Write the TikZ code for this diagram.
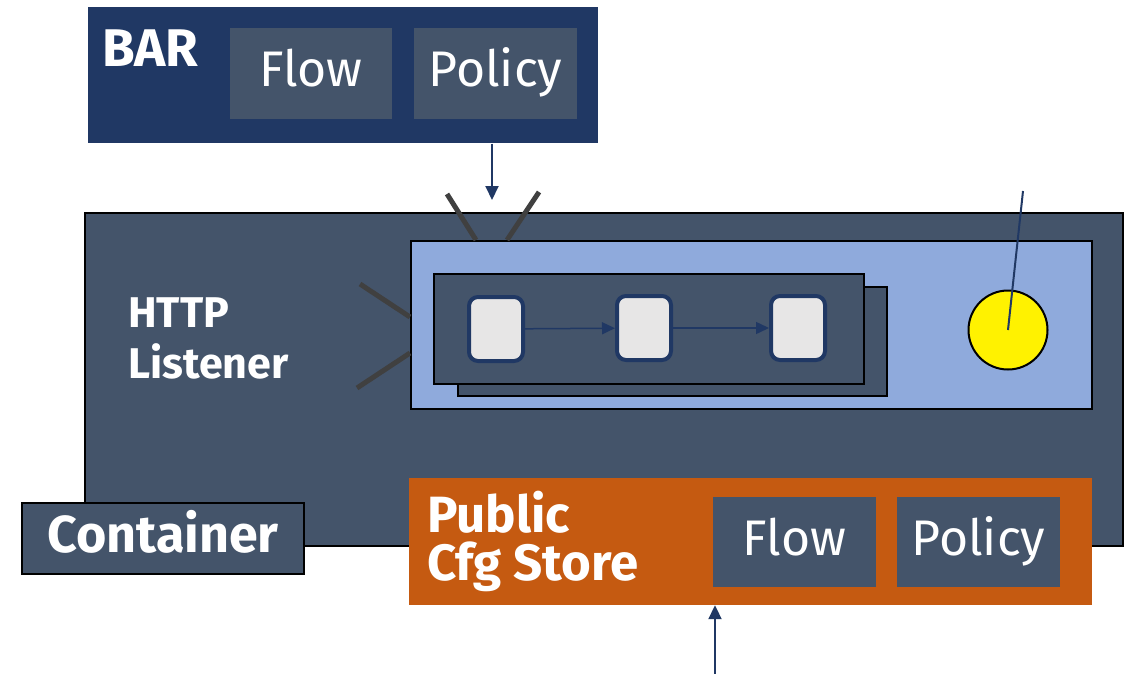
\documentclass[tikz,border=0pt]{standalone}
\usepackage{fontspec}
\setmainfont{Fira Sans}
\usetikzlibrary{arrows.meta,positioning}
\definecolor{navy}{HTML}{203864}
\definecolor{slate}{HTML}{44546A}
\definecolor{paleblue}{HTML}{8FAADC}
\definecolor{rust}{HTML}{C55A11}
\definecolor{chip}{HTML}{E7E6E6}
\definecolor{ray}{HTML}{404040}

\begin{document}
\begin{tikzpicture}[x=1pt, y=-1pt,
  box/.style={draw=black, line width=2pt, inner sep=0pt, fill=slate},
  plate/.style={inner sep=0pt, fill=slate, text=white, text height=38pt, text depth=12pt,
    font=\fontsize{50}{52}\selectfont},
  head/.style={text=white, inner sep=0pt, align=left, font=\bfseries\fontsize{47}{50}\selectfont},
  chipnode/.style={draw=navy, line width=4pt, fill=chip, rounded corners=9pt,
    minimum width=54pt, minimum height=64pt},
  flowarr/.style={-{Triangle[length=13pt,width=12pt]}, navy, line width=1.5pt},
  feed/.style={-{Triangle[length=14pt,width=13pt]}, navy, line width=2pt},
  rays/.style={ray, line width=5pt}]

\useasboundingbox (0,0) rectangle (1127,674);

% BAR package
\node[fill=navy, inner sep=0pt, minimum width=510pt, minimum height=136pt] (bar) at (343,75.5) {};
\node[head, anchor=base west, font=\bfseries\fontsize{53}{50}\selectfont] (bartitle) at (102,67) {BAR};
\node[plate, minimum width=162pt, minimum height=91pt] (barflow) at (311,73.5) {Flow};
\node[plate, minimum width=163pt, minimum height=91pt] (barpolicy) at (495.5,73.5) {Policy};

% container
\node[box, minimum width=1038pt, minimum height=333pt] (container) at (604,379.5) {};
\node[box, minimum width=282pt, minimum height=71pt, text=white, text height=38pt, text depth=10pt,
  font=\bfseries\fontsize{52}{55}\selectfont] (ctag) at (163,538.5) {Container};
\node[head, anchor=base west, font=\bfseries\fontsize{43}{51}\selectfont] (listener) at (128,378) {HTTP\\Listener};

% integration server
\node[draw=black, line width=2pt, fill=paleblue, minimum width=681pt, minimum height=168pt] (server) at (751.5,325) {};
\coordinate (rayA) at (447,194);
\coordinate (rayB) at (539,192);
\coordinate (rayC) at (360,284);
\coordinate (rayD) at (357,388);
\draw[rays] (rayA) -- ([xshift=66pt]server.north west);
\draw[rays] (rayB) -- ([xshift=97pt]server.north west);
\draw[rays] (rayC) -- ([yshift=-77pt]server.north west);
\draw[rays] (rayD) -- ([yshift=-113pt]server.north west);

% deployed flows
\node[box, minimum width=429pt, minimum height=109pt] (flowback) at (672.5,341.5) {};
\node[box, minimum width=430pt, minimum height=110pt] (flowfront) at (649,329) {};
\node[chipnode] (n1) at (496,329) {};
\node[chipnode] (n2) at (644,328) {};
\node[chipnode] (n3) at (798,328) {};
\draw[flowarr] (n1) -- (n2);
\draw[flowarr] (n2) -- (n3);

% policy probe
\node[circle, draw=black, line width=2pt, fill=yellow, minimum size=79pt, inner sep=0pt] (sun) at (1008,330) {};
\coordinate (probe) at (1023,191);
\draw[navy, line width=2pt] (probe) -- (sun.center);

% public config store
\node[fill=rust, inner sep=0pt, minimum width=683pt, minimum height=127pt] (store) at (750.5,541.5) {};
\node[head, anchor=base west, font=\bfseries\fontsize{51}{48}\selectfont] (storetitle) at (427,580) {Public\\Cfg Store};
\node[plate, minimum width=163pt, minimum height=90pt] (storeflow) at (794.5,542) {Flow};
\node[plate, minimum width=163pt, minimum height=90pt] (storepolicy) at (978.5,542) {Policy};

% feeds
\coordinate (bartip) at (492,200);
\draw[feed] (bar.south -| bartip) -- (bartip);
\coordinate (feedtail) at (715,674);
\draw[feed] (feedtail) -- (store.south -| feedtail);
\end{tikzpicture}
\end{document}
